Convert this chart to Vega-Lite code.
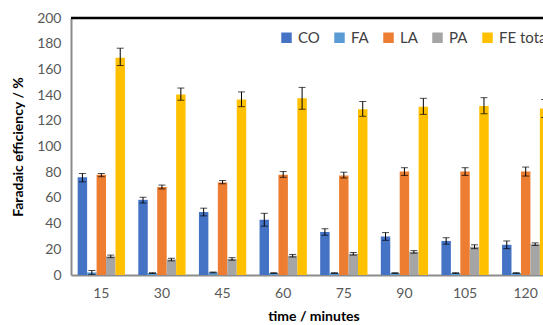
{
  "$schema": "https://vega.github.io/schema/vega-lite/v6.json",
  "autosize": {"type": "none"},
  "padding": {"left": 71, "top": 18, "right": 0, "bottom": 50},
  "width": 472,
  "height": 257,
  "config": {
    "font": "Lato",
    "view": {"stroke": null},
    "axis": {"grid": false, "ticks": false, "labelOverlap": false},
    "axisY": {
      "labelOverlap": false, "labelFontSize": 14, "labelColor": "#595959", "labelPadding": 10,
      "titleFontSize": 14, "titleFontWeight": "bold", "titleColor": "#000000", "titlePadding": 11,
      "domainColor": "#8C8C8C", "domainWidth": 2
    }
  },
  "data": {
    "values": [
      {"time": 15, "series": "CO", "value": 76, "lo": 72.5, "hi": 79},
      {"time": 15, "series": "FA", "value": 2, "lo": 0.5, "hi": 3.5},
      {"time": 15, "series": "LA", "value": 78, "lo": 76.5, "hi": 79},
      {"time": 15, "series": "PA", "value": 14.5, "lo": 13.5, "hi": 15.5},
      {"time": 15, "series": "FE total", "value": 169, "lo": 163, "hi": 176.5},
      {"time": 30, "series": "CO", "value": 58.5, "lo": 56, "hi": 60.5},
      {"time": 30, "series": "FA", "value": 1.5, "lo": 1.2, "hi": 1.8},
      {"time": 30, "series": "LA", "value": 68.5, "lo": 67, "hi": 70},
      {"time": 30, "series": "PA", "value": 12, "lo": 11, "hi": 13},
      {"time": 30, "series": "FE total", "value": 140.5, "lo": 136, "hi": 145.5},
      {"time": 45, "series": "CO", "value": 49, "lo": 46, "hi": 52},
      {"time": 45, "series": "FA", "value": 2, "lo": 1.7, "hi": 2.3},
      {"time": 45, "series": "LA", "value": 72, "lo": 71, "hi": 73.5},
      {"time": 45, "series": "PA", "value": 12.5, "lo": 11.5, "hi": 13.5},
      {"time": 45, "series": "FE total", "value": 136.5, "lo": 131, "hi": 142.5},
      {"time": 60, "series": "CO", "value": 43, "lo": 38, "hi": 48},
      {"time": 60, "series": "FA", "value": 1.5, "lo": 1.2, "hi": 1.8},
      {"time": 60, "series": "LA", "value": 78, "lo": 76, "hi": 80.5},
      {"time": 60, "series": "PA", "value": 15, "lo": 14, "hi": 16},
      {"time": 60, "series": "FE total", "value": 137.5, "lo": 129, "hi": 146},
      {"time": 75, "series": "CO", "value": 33.5, "lo": 31, "hi": 36},
      {"time": 75, "series": "FA", "value": 1.5, "lo": 1.2, "hi": 1.8},
      {"time": 75, "series": "LA", "value": 77.5, "lo": 75.5, "hi": 80},
      {"time": 75, "series": "PA", "value": 16.5, "lo": 15.5, "hi": 17.5},
      {"time": 75, "series": "FE total", "value": 129, "lo": 123.5, "hi": 135},
      {"time": 90, "series": "CO", "value": 30, "lo": 27, "hi": 33},
      {"time": 90, "series": "FA", "value": 1.5, "lo": 1.2, "hi": 1.8},
      {"time": 90, "series": "LA", "value": 80.5, "lo": 77.5, "hi": 83.5},
      {"time": 90, "series": "PA", "value": 18, "lo": 17, "hi": 19},
      {"time": 90, "series": "FE total", "value": 131, "lo": 125, "hi": 137.5},
      {"time": 105, "series": "CO", "value": 26.5, "lo": 24, "hi": 29},
      {"time": 105, "series": "FA", "value": 1.5, "lo": 1.2, "hi": 1.8},
      {"time": 105, "series": "LA", "value": 80.5, "lo": 77.5, "hi": 83.5},
      {"time": 105, "series": "PA", "value": 22, "lo": 20.5, "hi": 23.5},
      {"time": 105, "series": "FE total", "value": 131.5, "lo": 125.5, "hi": 138},
      {"time": 120, "series": "CO", "value": 23.5, "lo": 20.5, "hi": 26.5},
      {"time": 120, "series": "FA", "value": 1.5, "lo": 1.2, "hi": 1.8},
      {"time": 120, "series": "LA", "value": 80.5, "lo": 77, "hi": 84},
      {"time": 120, "series": "PA", "value": 24, "lo": 23, "hi": 25},
      {"time": 120, "series": "FE total", "value": 129.5, "lo": 122.5, "hi": 136.5}
    ]
  },
  "encoding": {
    "x": {
      "field": "time", "type": "ordinal",
      "scale": {"paddingInner": 0.22, "paddingOuter": 0.11, "range": [0, 485]},
      "axis": {
        "title": "time / minutes", "labelAngle": 0, "labelFontSize": 14, "labelColor": "#595959",
        "labelPadding": 11, "titleFontSize": 14, "titleFontWeight": "bold", "titleColor": "#000000",
        "titlePadding": 9, "domainColor": "#8C8C8C", "domainWidth": 2
      }
    },
    "xOffset": {
      "field": "series", "type": "nominal",
      "sort": ["CO", "FA", "LA", "PA", "FE total"],
      "scale": {"paddingInner": 0, "paddingOuter": 0}
    }
  },
  "layer": [
    {
      "mark": {"type": "bar"},
      "encoding": {
        "y": {
          "field": "value", "type": "quantitative",
          "scale": {"domain": [0, 200], "nice": false},
          "axis": {"title": "Faradaic efficiency / %", "values": [0, 20, 40, 60, 80, 100, 120, 140, 160, 180, 200]}
        },
        "color": {
          "field": "series", "type": "nominal",
          "sort": ["CO", "FA", "LA", "PA", "FE total"],
          "scale": {"domain": ["CO", "FA", "LA", "PA", "FE total"], "range": ["#4472C4", "#5B9BD5", "#ED7D31", "#A5A5A5", "#FFC000"]},
          "legend": {
            "title": null, "orient": "none", "legendX": 208, "legendY": 12, "direction": "horizontal",
            "symbolType": "square", "symbolSize": 110, "symbolStrokeWidth": 0, "symbolOpacity": 1,
            "labelFontSize": 15, "labelColor": "#404040", "labelOffset": 4, "columnPadding": 12
          }
        }
      }
    },
    {
      "mark": {"type": "rule", "color": "#000000", "strokeWidth": 1},
      "encoding": {
        "y": {"field": "lo", "type": "quantitative", "axis": {"title": "Faradaic efficiency / %", "values": [0, 20, 40, 60, 80, 100, 120, 140, 160, 180, 200]}},
        "y2": {"field": "hi"}
      }
    },
    {
      "mark": {"type": "tick", "color": "#000000", "size": 7, "thickness": 1},
      "encoding": {"y": {"field": "lo", "type": "quantitative", "axis": {"title": "Faradaic efficiency / %", "values": [0, 20, 40, 60, 80, 100, 120, 140, 160, 180, 200]}}}
    },
    {
      "mark": {"type": "tick", "color": "#000000", "size": 7, "thickness": 1},
      "encoding": {"y": {"field": "hi", "type": "quantitative", "axis": {"title": "Faradaic efficiency / %", "values": [0, 20, 40, 60, 80, 100, 120, 140, 160, 180, 200]}}}
    },
    {
      "data": {"values": [{"top": 200}]},
      "mark": {"type": "rule", "color": "#000000", "strokeWidth": 2.5},
      "encoding": {"y": {"field": "top", "type": "quantitative", "axis": {"title": "Faradaic efficiency / %", "values": [0, 20, 40, 60, 80, 100, 120, 140, 160, 180, 200]}}, "xOffset": null, "x": null}
    }
  ]
}
